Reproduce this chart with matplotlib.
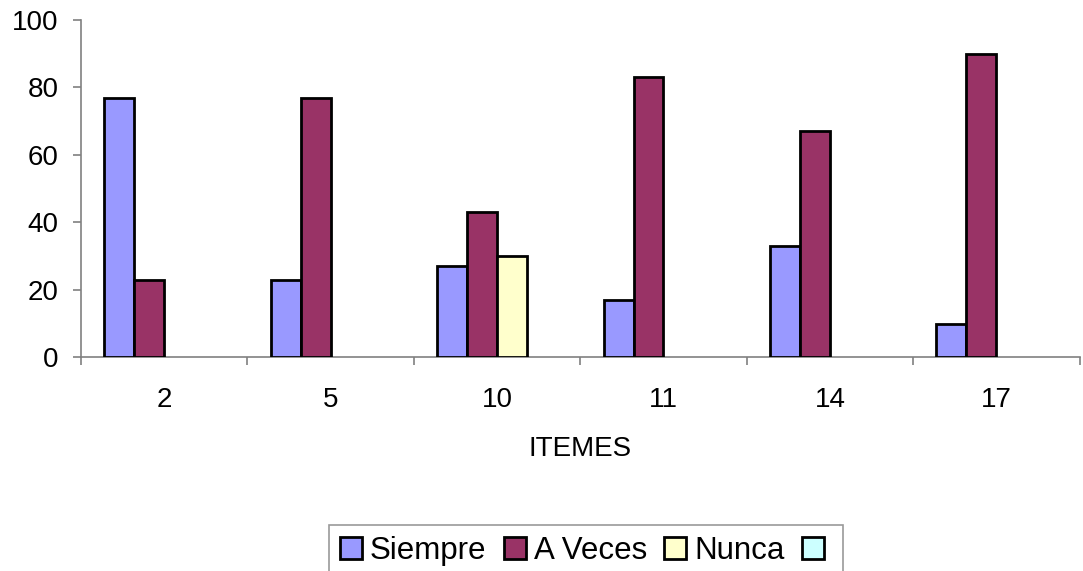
import numpy as np
import matplotlib
matplotlib.use('Agg')
import matplotlib.pyplot as plt
from matplotlib.ticker import MultipleLocator

plt.rcParams['font.family'] = ['Liberation Sans', 'DejaVu Sans']

items = ['2', '5', '10', '11', '14', '17']
siempre = [77, 23, 27, 17, 33, 10]
aveces = [23, 77, 43, 83, 67, 90]
nunca = [0, 0, 30, 0, 0, 0]
cuarta = [0, 0, 0, 0, 0, 0]

series = [('Siempre', siempre, '#9999FF'),
          ('A Veces', aveces, '#993366'),
          ('Nunca', nunca, '#FFFFCC'),
          ('', cuarta, '#CCFFFF')]

fig = plt.figure(figsize=(10.83, 5.71), dpi=100)
ax = fig.add_axes([0.0748, 0.374, 0.922, 0.591])

x = np.arange(len(items))
w = 0.18
handles = []
for i, (name, vals, col) in enumerate(series):
    bars = ax.bar(x + (i - 1.5) * w, vals, w, color=col, edgecolor='black',
                  linewidth=2, label=name, zorder=3)
    # excel leaves zero bars out
    for b, v in zip(bars, vals):
        if v == 0:
            b.set_visible(False)
    handles.append(plt.Rectangle((0, 0), 1, 1, facecolor=col,
                                 edgecolor='black', linewidth=2))

ax.set_xlim(-0.5, len(items) - 0.5)
ax.set_ylim(0, 100)
ax.yaxis.set_major_locator(MultipleLocator(20))
ax.set_xticks(x)
ax.set_xticklabels(items)
ax.set_xticks(np.arange(-0.5, len(items), 1), minor=True)

for s in ['top', 'right']:
    ax.spines[s].set_visible(False)
for s in ['left', 'bottom']:
    ax.spines[s].set_color('#808080')
    ax.spines[s].set_linewidth(1.2)

ax.tick_params(axis='x', which='major', length=0, pad=21, labelsize=20)
ax.tick_params(axis='x', which='minor', length=6, width=1.2, color='#808080',
               direction='out')
ax.tick_params(axis='y', length=6, width=1.2, color='#808080', pad=10,
               labelsize=20)
ax.set_xlabel('ITEMES', fontsize=20, labelpad=17)

leg = fig.legend(handles, [s[0] for s in series], loc='upper center',
                 bbox_to_anchor=(0.541, 1 - 525 / 571), ncol=4, fontsize=22.5,
                 frameon=True, fancybox=False, handlelength=0.7,
                 handleheight=0.7, handletextpad=0.26, columnspacing=0.55,
                 borderpad=0.35, borderaxespad=0)
leg.get_frame().set_edgecolor('#808080')
leg.get_frame().set_linewidth(1.2)

fig.savefig('out.png', dpi=100)
